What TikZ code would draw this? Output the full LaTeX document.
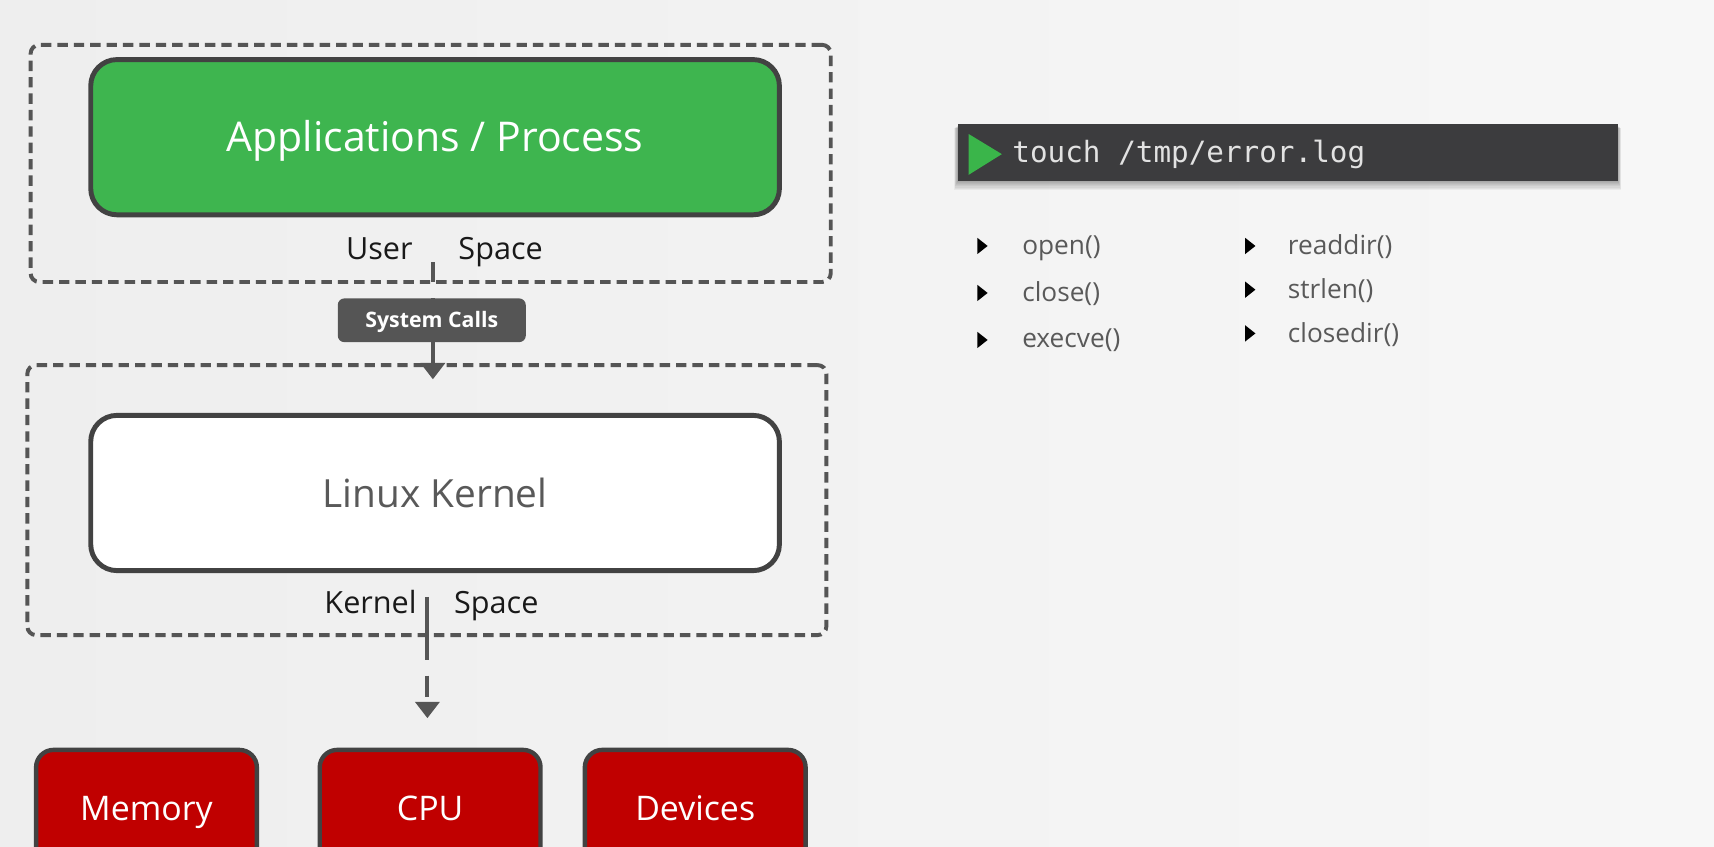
\documentclass[tikz,border=0pt]{standalone}
\usepackage{fontspec}
\setmainfont{Open Sans}
\setmonofont{DejaVu Sans Mono}
\usetikzlibrary{arrows.meta}
\definecolor{bgL}{HTML}{EEEEEE}
\definecolor{bgR}{HTML}{F7F7F7}
\definecolor{appgreen}{HTML}{3EB54F}
\definecolor{hwred}{HTML}{C00000}
\definecolor{edge}{HTML}{424242}
\definecolor{dashc}{HTML}{555555}
\definecolor{txtgray}{HTML}{595959}
\definecolor{termbg}{HTML}{3C3C3E}
\definecolor{termtxt}{HTML}{E2E2E2}
\definecolor{playgreen}{HTML}{3AB54A}
\begin{document}
\begin{tikzpicture}[x=1pt,y=-1pt,
  spacebox/.style={draw=dashc,line width=3.6pt,dash pattern=on 9.5pt off 5.5pt,rounded corners=8pt,inner sep=0pt},
  bigbox/.style={draw=edge,line width=4.5pt,rounded corners=24pt,inner sep=0pt,minimum width=630pt,minimum height=142pt,text height=26pt,text depth=0pt},
  hwbox/.style={draw=edge,line width=4pt,rounded corners=16pt,fill=hwred,text=white,inner sep=0pt,minimum width=202pt,minimum height=108pt,font=\fontsize{31}{36}\selectfont,text height=22pt,text depth=0pt},
  spacelbl/.style={anchor=base,text=black!90,inner sep=0pt,font=\fontsize{28}{32}\selectfont},
  callbox/.style={fill=dashc,rounded corners=6pt,text=white,inner sep=0pt,minimum width=172pt,minimum height=40pt,font=\bfseries\fontsize{19.5}{22}\selectfont,text height=14pt,text depth=0pt},
  conn/.style={draw=dashc,line width=3.5pt,-{Triangle[width=22pt,length=15pt]}},
  fn/.style={anchor=base west,text=txtgray,inner sep=0pt,font=\fontsize{24}{27}\selectfont},
  bul/.style={fill=black}
]
\useasboundingbox (0,0) rectangle (1568,774);
\clip (0,0) rectangle (1568,774);
\shade[left color=bgL,right color=bgR] (0,0) rectangle (1568,774);

% dashed space boxes
\node[spacebox,minimum width=732pt,minimum height=217pt] (user) at (394,149.5) {};
\node[spacebox,minimum width=731pt,minimum height=247pt] (kspace) at (390.5,457.5) {};

% main boxes
\node[bigbox,fill=appgreen,text=white,font=\fontsize{37.5}{42}\selectfont] (app) at (398,125.5) {Applications / Process};
\node[bigbox,fill=white,text=txtgray,font=\fontsize{35.5}{40}\selectfont] (kernel) at (398,451) {Linux Kernel};

% space labels
\node[spacelbl] (ulbl) at (347,237) {User};
\node[spacelbl] (slbl) at (458,237) {Space};
\node[spacelbl] (klbl) at (339,561) {Kernel};
\node[spacelbl] (kslbl) at (454,561) {Space};

% connectors
\coordinate (c1) at (396,240);
\coordinate (c1e) at (396,347);
\draw[conn,dash pattern=on 18pt off 15pt on 300pt] (c1) -- (c1e);
\node[callbox] (calls) at (395,293) {System Calls};

\coordinate (c2) at (391,546);
\coordinate (c2e) at (391,657);
\draw[conn,dash pattern=on 58pt off 14pt on 20pt off 300pt] (c2) -- (c2e);

% hardware
\node[hwbox] (mem) at (134,740) {Memory};
\node[hwbox] (cpu) at (393.5,740) {CPU};
\node[hwbox] (dev) at (636,740) {Devices};

% terminal with soft shadow
\foreach \i in {1,...,8}
  \fill[black,opacity=0.045] (876-0.4*\i,115+0.3*\i) rectangle (1480+0.4*\i,165+1.1*\i);
\node[fill=termbg,minimum width=604pt,minimum height=52pt,inner sep=0pt] (term) at (1178,139.5) {};
\fill[playgreen] (886,122.5) -- (916.5,141) -- (886,160) -- cycle;
\node[anchor=base west,inner sep=0pt,text=termtxt,font=\ttfamily\fontsize{26.8}{30}\selectfont] (cmd) at (926,149) {touch /tmp/error.log};

% system call list
\fill[bul] (894,217.5) -- (903.5,225) -- (894,232.5) -- cycle;
\fill[bul] (894,260.5) -- (903.5,268) -- (894,275.5) -- cycle;
\fill[bul] (894,303.5) -- (903.5,311) -- (894,318.5) -- cycle;
\fill[bul] (1139,217.5) -- (1148.5,225) -- (1139,232.5) -- cycle;
\fill[bul] (1139,257.5) -- (1148.5,265) -- (1139,272.5) -- cycle;
\fill[bul] (1139,297.5) -- (1148.5,305) -- (1139,312.5) -- cycle;
\node[fn] (f1) at (935,233) {open()};
\node[fn] (f2) at (935,276) {close()};
\node[fn] (f3) at (935,318) {execve()};
\node[fn] (f4) at (1178,233) {readdir()};
\node[fn] (f5) at (1178,273.5) {strlen()};
\node[fn] (f6) at (1178,313) {closedir()};
\end{tikzpicture}
\end{document}
